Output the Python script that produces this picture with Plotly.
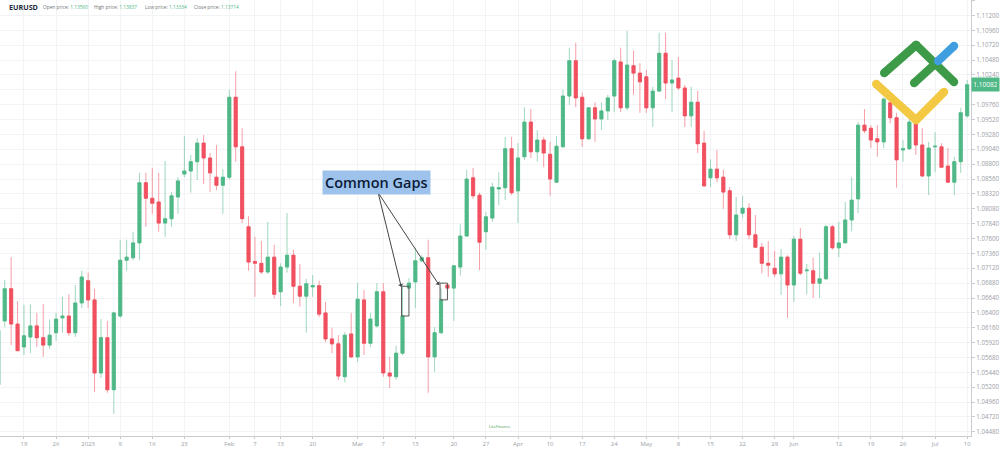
import plotly.graph_objects as go

# ---------------- data (EURUSD daily candles) ----------------
open_ = [1.0524, 1.0627, 1.0679, 1.0622, 1.0585, 1.0601, 1.0619, 1.0600, 1.0588, 1.0608,
         1.0632, 1.0635, 1.0608, 1.0656, 1.0692, 1.0661, 1.0543, 1.0600, 1.0516, 1.0635,
         1.0725, 1.0729, 1.0753, 1.0850, 1.0825, 1.0819, 1.0785, 1.0792, 1.0827, 1.0864,
         1.0869, 1.0884, 1.0914, 1.0890, 1.0859, 1.0846, 1.0859, 1.0988, 1.0908, 1.0779,
         1.0723, 1.0720, 1.0706, 1.0730, 1.0674, 1.0714, 1.0733, 1.0683, 1.0667, 1.0682,
         1.0684, 1.0640, 1.0598, 1.0590, 1.0537, 1.0606, 1.0569, 1.0661, 1.0591, 1.0619,
         1.0674, 1.0543, 1.0537, 1.0575, 1.0680, 1.0690, 1.0724, 1.0729, 1.0569, 1.0608,
         1.0685, 1.0680, 1.0714, 1.0764, 1.0858, 1.0830, 1.0771, 1.0793, 1.0840, 1.0842,
         1.0905, 1.0837, 1.0892, 1.0948, 1.0900, 1.0919, 1.0896, 1.0851, 1.0908, 1.0990,
         1.1047, 1.0988, 1.0921, 1.0971, 1.0953, 1.0966, 1.0990, 1.1045, 1.0971, 1.1039,
         1.1027, 1.1021, 1.0971, 1.0998, 1.1059, 1.1011, 1.1019, 1.1003, 1.0958, 1.0980,
         1.0914, 1.0858, 1.0872, 1.0859, 1.0837, 1.0766, 1.0801, 1.0809, 1.0766, 1.0746,
         1.0720, 1.0712, 1.0703, 1.0730, 1.0685, 1.0759, 1.0708, 1.0708, 1.0688, 1.0695,
         1.0779, 1.0745, 1.0753, 1.0790, 1.0824, 1.0943, 1.0938, 1.0921, 1.0916, 1.0979,
         1.0955, 1.0903, 1.0905, 1.0946, 1.0911, 1.0861, 1.0908, 1.0908, 1.0877, 1.0851,
         1.0884, 1.0958]
high_ = [1.0620, 1.0693, 1.0730, 1.0659, 1.0653, 1.0654, 1.0640, 1.0654, 1.0629, 1.0640,
         1.0666, 1.0670, 1.0685, 1.0708, 1.0705, 1.0679, 1.0630, 1.0627, 1.0642, 1.0758,
         1.0758, 1.0771, 1.0866, 1.0866, 1.0874, 1.0866, 1.0885, 1.0835, 1.0859, 1.0925,
         1.0895, 1.0922, 1.0927, 1.0898, 1.0911, 1.0872, 1.1000, 1.1030, 1.0938, 1.0796,
         1.0763, 1.0756, 1.0787, 1.0750, 1.0720, 1.0801, 1.0742, 1.0719, 1.0695, 1.0701,
         1.0692, 1.0658, 1.0616, 1.0604, 1.0609, 1.0640, 1.0688, 1.0677, 1.0640, 1.0688,
         1.0688, 1.0569, 1.0587, 1.0683, 1.0696, 1.0745, 1.0733, 1.0758, 1.0617, 1.0680,
         1.0687, 1.0717, 1.0783, 1.0871, 1.0874, 1.0834, 1.0803, 1.0850, 1.0867, 1.0924,
         1.0924, 1.0914, 1.0972, 1.0969, 1.0935, 1.0924, 1.0916, 1.0925, 1.1000, 1.1068,
         1.1076, 1.0996, 1.0972, 1.0980, 1.0980, 1.0992, 1.1051, 1.1068, 1.1095, 1.1063,
         1.1043, 1.1032, 1.1005, 1.1092, 1.1092, 1.1048, 1.1053, 1.1008, 1.1005, 1.0998,
         1.0934, 1.0888, 1.0903, 1.0871, 1.0843, 1.0827, 1.0829, 1.0817, 1.0798, 1.0753,
         1.0756, 1.0740, 1.0743, 1.0733, 1.0764, 1.0777, 1.0719, 1.0729, 1.0737, 1.0782,
         1.0782, 1.0787, 1.0819, 1.0859, 1.0948, 1.0969, 1.0943, 1.0943, 1.0988, 1.0988,
         1.0963, 1.0919, 1.0967, 1.0951, 1.0938, 1.0916, 1.0932, 1.0914, 1.0906, 1.0892,
         1.0971, 1.1016]
low_ = [1.0519, 1.0617, 1.0588, 1.0578, 1.0572, 1.0575, 1.0585, 1.0569, 1.0582, 1.0595,
        1.0608, 1.0603, 1.0601, 1.0648, 1.0648, 1.0512, 1.0535, 1.0511, 1.0477, 1.0632,
        1.0708, 1.0725, 1.0725, 1.0779, 1.0800, 1.0771, 1.0763, 1.0779, 1.0800, 1.0859,
        1.0834, 1.0855, 1.0848, 1.0835, 1.0838, 1.0800, 1.0855, 1.0884, 1.0785, 1.0708,
        1.0666, 1.0703, 1.0703, 1.0663, 1.0651, 1.0705, 1.0656, 1.0650, 1.0608, 1.0666,
        1.0633, 1.0593, 1.0575, 1.0532, 1.0528, 1.0567, 1.0561, 1.0572, 1.0585, 1.0616,
        1.0537, 1.0519, 1.0532, 1.0572, 1.0679, 1.0648, 1.0722, 1.0511, 1.0545, 1.0606,
        1.0677, 1.0627, 1.0700, 1.0763, 1.0824, 1.0709, 1.0742, 1.0787, 1.0814, 1.0822,
        1.0830, 1.0785, 1.0887, 1.0890, 1.0884, 1.0875, 1.0829, 1.0851, 1.0907, 1.0976,
        1.0972, 1.0908, 1.0919, 1.0916, 1.0935, 1.0951, 1.0964, 1.0964, 1.0967, 1.0992,
        1.0963, 1.0963, 1.0940, 1.0997, 1.0985, 1.0964, 1.1000, 1.0940, 1.0940, 1.0898,
        1.0843, 1.0843, 1.0851, 1.0808, 1.0759, 1.0756, 1.0793, 1.0759, 1.0745, 1.0704,
        1.0698, 1.0698, 1.0669, 1.0632, 1.0658, 1.0701, 1.0670, 1.0664, 1.0664, 1.0693,
        1.0742, 1.0730, 1.0753, 1.0772, 1.0801, 1.0930, 1.0906, 1.0892, 1.0906, 1.0946,
        1.0842, 1.0884, 1.0903, 1.0895, 1.0859, 1.0830, 1.0867, 1.0875, 1.0850, 1.0830,
        1.0866, 1.0955]
close_ = [1.0612, 1.0679, 1.0622, 1.0579, 1.0603, 1.0619, 1.0600, 1.0588, 1.0604, 1.0630,
          1.0635, 1.0608, 1.0656, 1.0698, 1.0661, 1.0543, 1.0600, 1.0516, 1.0640, 1.0725,
          1.0730, 1.0753, 1.0850, 1.0825, 1.0817, 1.0785, 1.0792, 1.0829, 1.0853, 1.0869,
          1.0884, 1.0914, 1.0890, 1.0866, 1.0846, 1.0859, 1.0988, 1.0908, 1.0792, 1.0722,
          1.0720, 1.0706, 1.0730, 1.0670, 1.0714, 1.0733, 1.0683, 1.0667, 1.0687, 1.0684,
          1.0638, 1.0598, 1.0590, 1.0538, 1.0604, 1.0569, 1.0662, 1.0591, 1.0630, 1.0674,
          1.0543, 1.0538, 1.0575, 1.0635, 1.0688, 1.0724, 1.0729, 1.0569, 1.0608, 1.0661,
          1.0680, 1.0716, 1.0764, 1.0856, 1.0829, 1.0754, 1.0795, 1.0843, 1.0842, 1.0905,
          1.0834, 1.0890, 1.0948, 1.0900, 1.0919, 1.0898, 1.0856, 1.0909, 1.0990, 1.1047,
          1.0987, 1.0921, 1.0971, 1.0953, 1.0966, 1.0987, 1.1047, 1.0971, 1.1040, 1.1027,
          1.1013, 1.0971, 1.0998, 1.1059, 1.1011, 1.1016, 1.1003, 1.0958, 1.0980, 1.0913,
          1.0845, 1.0872, 1.0858, 1.0835, 1.0766, 1.0798, 1.0809, 1.0766, 1.0746, 1.0720,
          1.0717, 1.0703, 1.0730, 1.0685, 1.0759, 1.0704, 1.0709, 1.0688, 1.0695, 1.0779,
          1.0745, 1.0753, 1.0790, 1.0822, 1.0943, 1.0934, 1.0919, 1.0916, 1.0985, 1.0955,
          1.0887, 1.0905, 1.0948, 1.0911, 1.0861, 1.0906, 1.0909, 1.0875, 1.0851, 1.0884,
          1.0963, 1.10082]

# trading-session index of each candle (13 Dec 2022 ... 10 Jul 2023)
session = list(range(len(open_)))

# date labels of the time axis and the session they sit under
x_tick_session = [4, 9, 14, 19, 24, 29, 36, 40, 44, 49, 56, 60, 65, 71, 76, 81, 86, 91, 96,
                  101, 106, 111, 116, 121, 124, 131, 136, 141, 146, 151]
x_tick_text = ["19", "26", "2023", "9", "16", "23", "Feb", "7", "13", "20", "Mar", "7", "13",
               "20", "27", "Apr", "10", "17", "24", "May", "8", "15", "22", "29", "Jun", "12",
               "19", "26", "Jul", "10"]

# price scale (the 1.10000 level is hidden behind the last-price tag in the reference)
y_tick_vals = [1.04480, 1.04720, 1.04960, 1.05200, 1.05440, 1.05680, 1.05920, 1.06160,
               1.06400, 1.06640, 1.06880, 1.07120, 1.07360, 1.07600, 1.07840, 1.08080,
               1.08320, 1.08560, 1.08800, 1.09040, 1.09280, 1.09520, 1.09760, 1.10000,
               1.10240, 1.10480, 1.10720, 1.10960, 1.11200, 1.11440]
y_tick_text = ["1.04480", "1.04720", "1.04960", "1.05200", "1.05440", "1.05680", "1.05920",
               "1.06160", "1.06400", "1.06640", "1.06880", "1.07120", "1.07360", "1.07600",
               "1.07840", "1.08080", "1.08320", "1.08560", "1.08800", "1.09040", "1.09280",
               "1.09520", "1.09760", "", "1.10240", "1.10480", "1.10720", "1.10960",
               "1.11200", "1.11440"]

last_price = close_[-1]
header = [("Open price:", "1.13560"), ("High price:", "1.13837"),
          ("Low price:", "1.13334"), ("Close price:", "1.13714")]

# ---------------- styling ----------------
GREEN = "#4fb886"
RED = "#f0505f"
GREEN_WICK = "rgba(79,184,134,0.55)"
RED_WICK = "rgba(240,80,95,0.55)"
GRID = "#f2f3f5"
AXIS = "#c9ccd1"
TXT = "#9a9ea6"
FONT = "Open Sans"

PLOT_W, PLOT_H = 973, 436

fig = go.Figure()

# wicks (light)
fig.add_trace(go.Candlestick(
    x=session, open=open_, high=high_, low=low_, close=close_,
    increasing=dict(line=dict(color=GREEN_WICK, width=1), fillcolor=GREEN_WICK),
    decreasing=dict(line=dict(color=RED_WICK, width=1), fillcolor=RED_WICK),
    whiskerwidth=0, hoverinfo="skip", showlegend=False,
))
# bodies (solid)
body_top = [max(o, c) for o, c in zip(open_, close_)]
body_bot = [min(o, c) for o, c in zip(open_, close_)]
fig.add_trace(go.Candlestick(
    x=session, open=open_, high=body_top, low=body_bot, close=close_,
    increasing=dict(line=dict(color=GREEN, width=0.6), fillcolor=GREEN),
    decreasing=dict(line=dict(color=RED, width=0.6), fillcolor=RED),
    whiskerwidth=0, showlegend=False,
))

shapes = []
# gap boxes
for a, b, x0 in [(63, 64, 62.85), (69, 70, 68.85)]:
    shapes.append(dict(type="rect", xref="x", yref="y", x0=x0, x1=session[b],
                       y0=close_[a], y1=open_[b] + 0.0003,
                       line=dict(color="#555555", width=1), fillcolor="rgba(0,0,0,0)",
                       layer="above"))


def px2paper(px, py):
    return px / PLOT_W, 1 - py / PLOT_H


# LiteFinance logo (decoration)
logo = [
    ("#3c9a48", (886, 73), (918, 45)),
    ("#3c9a48", (918, 45), (956, 82)),
    ("#3c9a48", (916, 83), (938, 63)),
    ("#3f9ee0", (940, 61), (956, 46)),
    ("#f3c843", (878, 84), (918, 120)),
    ("#f3c843", (918, 120), (946, 92)),
]
R = 4.2
for col, p0, p1 in logo:
    x0, y0 = px2paper(*p0)
    x1, y1 = px2paper(*p1)
    shapes.append(dict(type="line", xref="paper", yref="paper", x0=x0, y0=y0, x1=x1, y1=y1,
                       line=dict(color=col, width=8.4), layer="above"))
    for (qx, qy) in (p0, p1):
        cx0, cy0 = px2paper(qx - R, qy + R)
        cx1, cy1 = px2paper(qx + R, qy - R)
        shapes.append(dict(type="circle", xref="paper", yref="paper", x0=cx0, y0=cy0,
                           x1=cx1, y1=cy1, line=dict(width=0), fillcolor=col, layer="above"))

annotations = []
# header
hx, hy = px2paper(7, 7)
annotations.append(dict(xref="paper", yref="paper", x=hx, y=hy, xanchor="left", yanchor="middle",
                        text="<b>EURUSD</b>", showarrow=False,
                        font=dict(family=FONT, size=7.2, color="#1f2a3c")))
for (label, val), px in zip(header, [41, 92, 143, 192]):
    ax_, ay_ = px2paper(px, 7)
    annotations.append(dict(xref="paper", yref="paper", x=ax_, y=ay_, xanchor="left",
                            yanchor="middle", showarrow=False,
                            text=f"{label} <span style='color:{GREEN}'>{val}</span>",
                            font=dict(family=FONT, size=4.8, color="#6f737a")))

# current price tag
annotations.append(dict(xref="paper", yref="y", x=1.0, y=last_price, xanchor="left",
                        yanchor="middle", showarrow=False, text=f"{last_price:.5f}",
                        bgcolor=GREEN, borderpad=2, width=23,
                        font=dict(family=FONT, size=6.5, color="white")))

# Common Gaps label and arrows
annotations.append(dict(xref="x", yref="y", x=58.9, y=1.0850, text="Common Gaps",
                        showarrow=False, bgcolor="#9dc3ec", borderpad=2,
                        font=dict(family=FONT, size=14.5, color="#0c1b38", weight=600)))
for tip_s, tip_p in [(62.8, close_[63] + 0.0047), (68.7, close_[69] + 0.0024)]:
    annotations.append(dict(xref="x", yref="y", x=tip_s, y=tip_p, axref="x", ayref="y",
                            ax=59.2, ay=1.0834, text="", showarrow=True, arrowhead=1,
                            arrowsize=0.9, arrowwidth=1, arrowcolor="#444444"))

# small watermark
wx, wy = px2paper(501, 431)
annotations.append(dict(xref="paper", yref="paper", x=wx, y=wy, text="LiteFinance",
                        showarrow=False, font=dict(family=FONT, size=4, color="#3c9a48")))

fig.update_layout(
    width=1000, height=449,
    margin=dict(l=0, r=27, t=0, b=13),
    paper_bgcolor="white", plot_bgcolor="white",
    showlegend=False,
    shapes=shapes, annotations=annotations,
    xaxis=dict(
        range=[0.264, 151.6], tickmode="array", tickvals=x_tick_session, ticktext=x_tick_text,
        showgrid=True, gridcolor=GRID, gridwidth=1, zeroline=False,
        showline=True, linecolor=AXIS, linewidth=1,
        ticks="outside", ticklen=2, tickcolor=AXIS,
        tickfont=dict(family=FONT, size=6, color=TXT),
        rangeslider=dict(visible=False), fixedrange=True,
    ),
    yaxis=dict(
        side="right", range=[1.04413, 1.1145], tickmode="array",
        tickvals=y_tick_vals, ticktext=y_tick_text,
        showgrid=True, gridcolor=GRID, gridwidth=1, zeroline=False,
        showline=True, linecolor=AXIS, linewidth=1,
        ticks="outside", ticklen=3, tickcolor=AXIS,
        tickfont=dict(family=FONT, size=6.2, color=TXT),
    ),
)

fig.write_html("out.html")
